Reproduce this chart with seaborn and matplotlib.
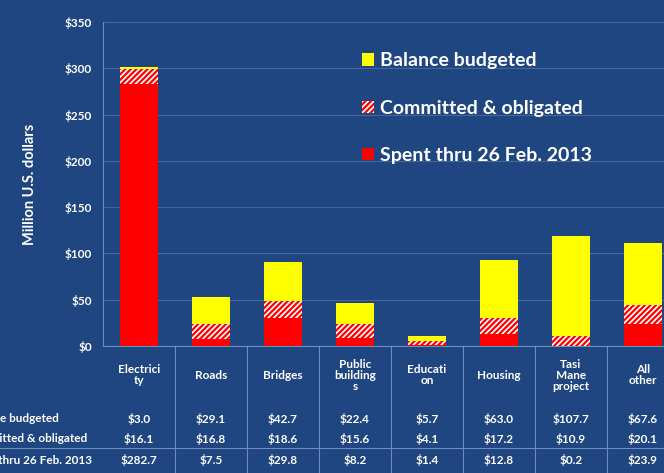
import seaborn as sns
import matplotlib.pyplot as plt
import matplotlib.transforms as mtransforms
from matplotlib.patches import Patch
import pandas as pd

# --- Data (million U.S. dollars) ---
categories = ['Electrici\nty', 'Roads', 'Bridges', 'Public\nbuilding\ns',
              'Educati\non', 'Housing', 'Tasi\nMane\nproject', 'All\nother']
balance = [3.0, 29.1, 42.7, 22.4, 5.7, 63.0, 107.7, 67.6]
committed = [16.1, 16.8, 18.6, 15.6, 4.1, 17.2, 10.9, 20.1]
spent = [282.7, 7.5, 29.8, 8.2, 1.4, 12.8, 0.2, 23.9]
series_names = ['Balance budgeted', 'Committed & obligated', 'Spent thru 26 Feb. 2013']
yticks = [0, 50, 100, 150, 200, 250, 300, 350]

df = pd.DataFrame({'cat': categories, 'balance': balance,
                   'committed': committed, 'spent': spent})
df['base_committed'] = df['spent']
df['base_balance'] = df['spent'] + df['committed']

# --- Style ---
bg = '#1F4680'
line_col = '#6F8EBE'
sns.set_style('dark')
plt.rcParams['font.family'] = ['Lato', 'DejaVu Sans']
plt.rcParams['hatch.linewidth'] = 1.6

fig = plt.figure(figsize=(6.64, 4.73), dpi=100, facecolor=bg)
ax = fig.add_axes([103 / 664, 127 / 473, 576 / 664, 324 / 473])
ax.set_facecolor(bg)

# stacked bars
sns.barplot(data=df, x='cat', y='spent', color='#FF0000', width=0.52,
            linewidth=0, saturation=1, ax=ax)
sns.barplot(data=df, x='cat', y='committed', bottom=df['base_committed'],
            color='white', edgecolor='#FF0000', hatch='//////', width=0.52,
            linewidth=0, saturation=1, ax=ax)
sns.barplot(data=df, x='cat', y='balance', bottom=df['base_balance'],
            color='#FFFF00', width=0.52, linewidth=0, saturation=1, ax=ax)

ax.set_ylim(0, 350)
ax.set_xlim(-0.5, 7.5)
ax.set_yticks(yticks)
ax.set_yticklabels([f'${v}' for v in yticks], color='white', fontsize=8.5,
                   fontweight='bold')
ax.tick_params(axis='y', length=3, color=line_col, pad=5)
ax.set_xticks([])
ax.set_xlabel('')
ax.set_ylabel('Million U.S. dollars', color='white', fontsize=10.5,
              fontweight='bold', labelpad=20)
ax.grid(axis='y', color='#46679A', linewidth=0.8)
ax.set_axisbelow(True)
for s in ['top', 'right']:
    ax.spines[s].set_visible(False)
ax.spines['left'].set_color(line_col)
ax.spines['bottom'].set_color(line_col)

# legend
handles = [Patch(facecolor='#FFFF00', edgecolor='none'),
           Patch(facecolor='white', edgecolor='#FF0000', hatch='//////', linewidth=0),
           Patch(facecolor='#FF0000', edgecolor='none')]
leg = ax.legend(handles, series_names, loc='upper left',
                bbox_to_anchor=(0.437, 0.93), frameon=False, fontsize=14,
                labelspacing=1.55, handlelength=0.6, handleheight=0.6,
                handletextpad=0.3, borderaxespad=0)
for t in leg.get_texts():
    t.set_color('white')
    t.set_fontweight('bold')

# data table under the chart
trans = mtransforms.blended_transform_factory(ax.transData, ax.transAxes)
for i, cat in enumerate(categories):
    ax.text(i, -0.09, cat, transform=trans, ha='center', va='center',
            color='white', fontsize=8.5, fontweight='bold', linespacing=1.0)
row_y = [-0.225, -0.287, -0.352]
for vals, y in zip([balance, committed, spent], row_y):
    for i, v in enumerate(vals):
        ax.text(i, y, f'${v:.1f}', transform=trans, ha='center', va='center',
                color='white', fontsize=8.5, fontweight='bold')
for name, y in zip(series_names, row_y):
    ax.text(-0.24, y, name, transform=ax.transAxes, ha='left', va='center',
            color='white', fontsize=8.5, fontweight='bold')

ax.vlines([i + 0.5 for i in range(len(categories))], -0.42, 0, transform=trans,
          colors=line_col, linewidth=0.8, clip_on=False)
ax.plot([-0.3, 1.0], [-0.315, -0.315], transform=ax.transAxes,
        color=line_col, linewidth=0.8, clip_on=False)

plt.savefig('out.png', dpi=100, facecolor=bg)
